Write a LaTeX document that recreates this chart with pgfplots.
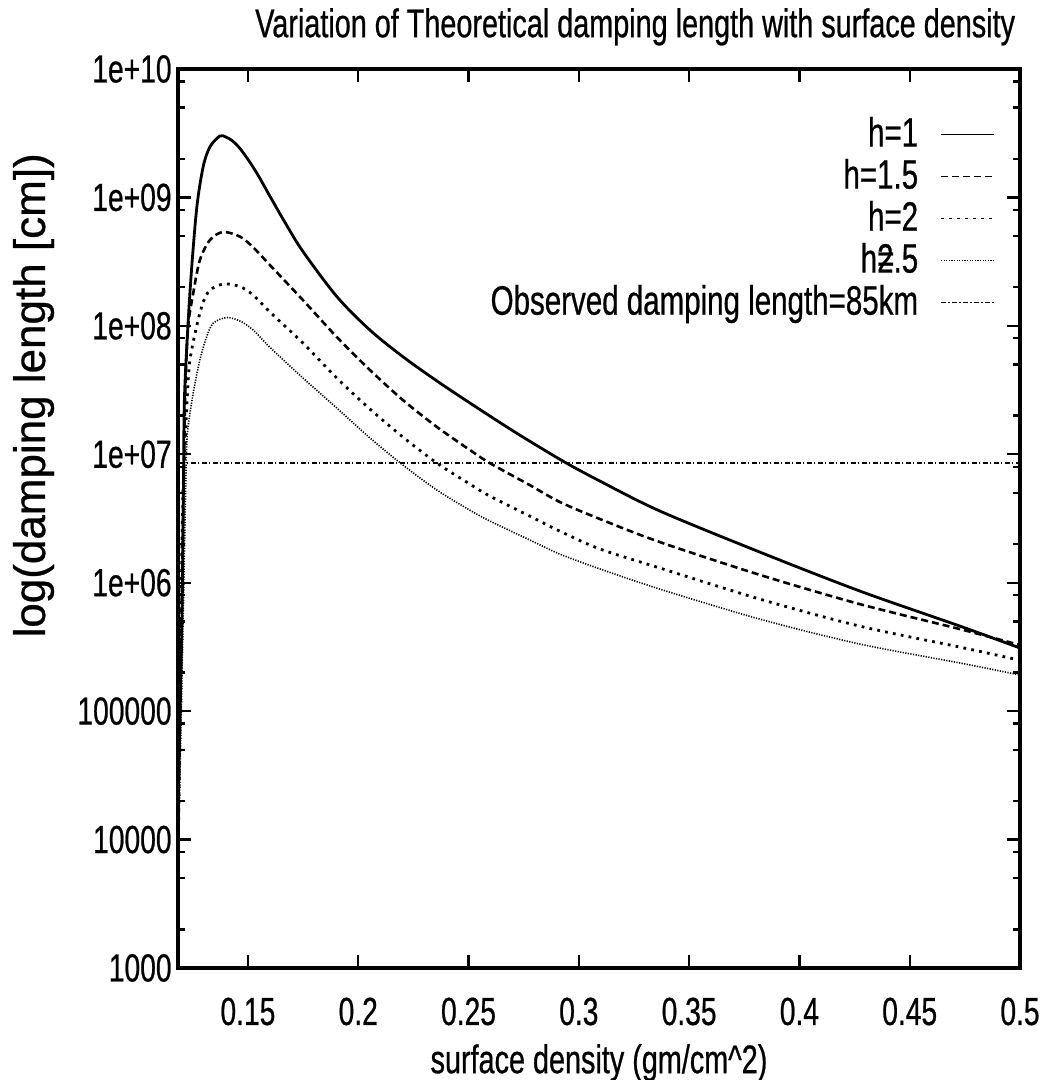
\documentclass[border=0pt]{standalone}
\usepackage{fontspec}
\setmainfont{Liberation Sans}[FakeStretch=0.72, FakeBold=0.6]
\newfontfamily\widesans{Liberation Sans}[FakeBold=0.6]
\usepackage{pgfplots}
\pgfplotsset{compat=1.18}

\newcommand\ticksize{\fontsize{19.6}{22}\selectfont}
\newcommand\titlesize{\fontsize{20}{24}\selectfont}
\newcommand\legfont{\fontsize{20.5}{24}\selectfont}
\newcommand\ylabfont{\widesans\fontsize{22}{26}\selectfont}

\begin{document}
\begin{tikzpicture}
\path[use as bounding box] (-89pt,-56pt) rectangle (435.5pt,484pt);
\begin{axis}[
  at={(0pt,0pt)}, anchor=south west,
  scale only axis, width=421pt, height=449.5pt,
  ymode=log,
  xmin=0.1183, xmax=0.5, ymin=1e3, ymax=1e10,
  xtick={0.15,0.2,0.25,0.3,0.35,0.4,0.45,0.5},
  xticklabels={0.15,0.2,0.25,0.3,0.35,0.4,0.45,0.5},
  ytick={1e3,1e4,1e5,1e6,1e7,1e8,1e9,1e10},
  yticklabels={1000,10000,100000,1e+06,1e+07,1e+08,1e+09,1e+10},
  minor ytick={2e3,5e3,8e3,2e4,5e4,8e4,2e5,5e5,8e5,2e6,5e6,8e6,2e7,5e7,8e7,2e8,5e8,8e8,2e9,5e9,8e9},
  tick align=inside,
  major tick length=6.5pt, minor tick length=3.5pt,
  every tick/.style={black, line width=1.2pt},
  axis line style={line width=1.6pt},
  ticklabel style={font=\ticksize},
  xticklabel style={anchor=base, yshift=-28.5pt, inner sep=0pt},
  yticklabel style={anchor=east, xshift=-3pt, inner sep=0pt},
  title={Variation of Theoretical damping length with surface density},
  title style={at={(0.543,1.022)}, anchor=base, inner sep=0pt, font=\titlesize},
  xlabel={surface density (gm/cm\^{}2)},
  xlabel style={at={(0.5,-0.117)}, anchor=base, inner sep=0pt, font=\titlesize},
  ylabel={log(damping length [cm])},
  ylabel style={at={(-0.158,0.637)}, anchor=base, inner sep=0pt, font=\ylabfont},
  legend cell align=right,
  legend plot pos=right,
  legend style={at={(0.970,0.947)}, anchor=north east, draw=none, fill=none,
    inner sep=0pt, outer sep=0pt, row sep=3pt, column sep=11pt, font=\legfont,
    nodes={inner sep=0pt, text height=15pt, text depth=3pt}},
  legend image code/.code={\draw[#1, line width=0.8pt] (0pt,0pt) -- (26.5pt,0pt);},
]
% h = 1
\addplot[black, line width=1.4pt, smooth, tension=0.5] coordinates {
  (0.1186,3.0e4) (0.1201,5.1e5) (0.1208,6.3e6) (0.1213,3.0e7) (0.1237,1.80e8)
  (0.1267,7.98e8) (0.1297,1.73e9) (0.1328,2.48e9) (0.1373,3.01e9) (0.1400,2.95e9)
  (0.1427,2.78e9) (0.1460,2.45e9) (0.1500,1.98e9) (0.1545,1.50e9) (0.1600,1.02e9)
  (0.1670,6.30e8) (0.1749,3.80e8) (0.1903,1.69e8)
  (0.2053,9.27e7) (0.2203,5.74e7) (0.2357,3.72e7) (0.2506,2.51e7) (0.2710,1.49e7)
  (0.2928,8.85e6) (0.3096,6.18e6) (0.3368,3.61e6) (0.3821,1.73e6) (0.4274,8.61e5)
  (0.4728,4.59e5) (0.5000,3.10e5)
};
\addlegendentry{h=1}
% h = 1.5
\addplot[black, line width=1.3pt, dash pattern=on 3.5pt off 2pt, smooth, tension=0.5] coordinates {
  (0.1186,2.0e4) (0.1203,1.5e6) (0.1216,3.0e7) (0.1229,9.84e7) (0.1252,1.79e8)
  (0.1282,3.25e8) (0.1328,4.66e8) (0.1387,5.38e8) (0.1464,4.95e8) (0.1523,4.10e8)
  (0.1600,2.97e8) (0.1749,1.59e8) (0.1903,8.18e7) (0.2053,4.53e7) (0.2203,2.64e7)
  (0.2357,1.63e7) (0.2506,1.08e7) (0.2597,8.53e6) (0.2778,5.75e6) (0.2914,4.25e6)
  (0.3096,3.13e6) (0.3368,2.07e6) (0.3821,1.15e6) (0.4274,6.81e5) (0.4728,4.35e5)
  (0.5000,3.27e5)
};
\addlegendentry{h=1.5}
% h = 2
\addplot[black, line width=1.4pt, dash pattern=on 1.4pt off 2.6pt, smooth, tension=0.5] coordinates {
  (0.1186,1.42e4) (0.1203,3.07e6) (0.1219,1.64e7) (0.1226,3.00e7) (0.1237,5.42e7)
  (0.1267,9.84e7) (0.1296,1.51e8) (0.1328,1.90e8) (0.1391,2.12e8) (0.1464,2.02e8)
  (0.1523,1.74e8) (0.1600,1.28e8) (0.1749,7.35e7) (0.1903,3.92e7) (0.2053,2.25e7)
  (0.2203,1.36e7) (0.2357,8.53e6) (0.2506,5.86e6) (0.2597,4.72e6) (0.2778,3.30e6)
  (0.2914,2.52e6) (0.3096,1.83e6) (0.3368,1.30e6) (0.3821,7.45e5) (0.4274,4.59e5)
  (0.4728,3.15e5) (0.5000,2.49e5)
};
\addlegendentry{h=2}
% h = 2.5
\addplot[black, line width=0.8pt, dash pattern=on 0.6pt off 0.7pt, smooth, tension=0.5] coordinates {
  (0.1186,9.9e3) (0.1208,7.31e5) (0.1221,9.55e6) (0.1229,1.64e7) (0.1252,3.00e7)
  (0.1282,5.42e7) (0.1313,8.22e7) (0.1343,1.05e8) (0.1403,1.16e8) (0.1464,1.09e8)
  (0.1523,9.30e7) (0.1600,6.80e7) (0.1749,3.93e7) (0.1903,2.29e7) (0.2053,1.34e7)
  (0.2203,8.24e6) (0.2357,5.26e6) (0.2506,3.67e6) (0.2597,3.02e6) (0.2778,2.15e6)
  (0.2914,1.67e6) (0.3096,1.28e6) (0.3368,8.91e5) (0.3821,5.20e5) (0.4274,3.33e5)
  (0.4728,2.37e5) (0.5000,1.91e5)
};
\addlegendentry{h\rlap{=}2.5}
% observed damping length, 85 km
\addplot[black, line width=1pt, dash pattern=on 2.6pt off 1.1pt on 0.7pt off 1.1pt] coordinates {
  (0.1190,8.5e6) (0.5000,8.5e6)
};
\addlegendentry{Observed damping length=85km}
\end{axis}
\end{tikzpicture}
\end{document}
